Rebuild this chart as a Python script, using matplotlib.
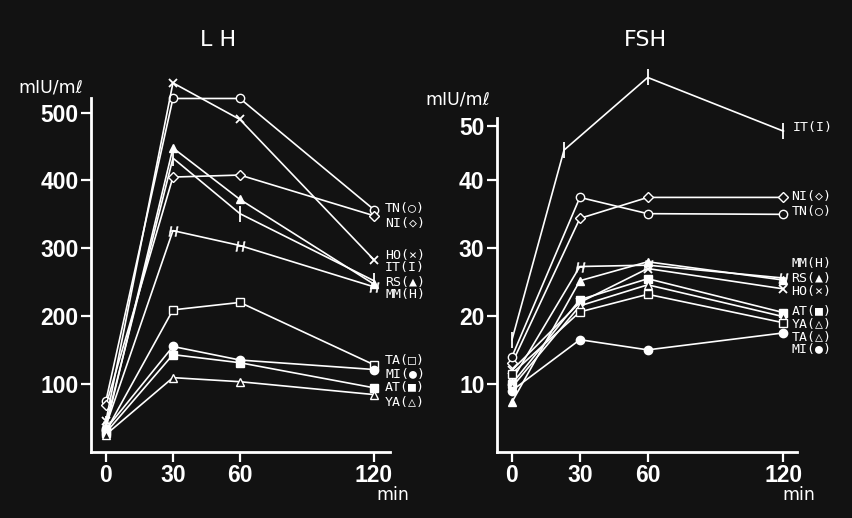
import numpy as np
import matplotlib
matplotlib.use("Agg")
import matplotlib.pyplot as plt

# ---------------- data ----------------
times = [0, 30, 60, 120]
x_ticks = [0, 30, 60, 120]

lh_TN = [75, 521, 521, 357]
lh_NI = [68, 405, 408, 348]
lh_HO = [45, 544, 490, 283]
lh_IT = [40, 433, 351, 252]
lh_RS = [35, 448, 372, 247]
lh_MM = [38, 326, 304, 243]
lh_TA = [30, 209, 220, 128]
lh_MI = [33, 155, 135, 121]
lh_AT = [28, 143, 131, 94]
lh_YA = [25, 109, 103, 84]
lh_yticks = [100, 200, 300, 400, 500]
lh_labels = ["TN(○)", "NI(◇)", "HO(×)", "IT(I)", "RS(▲)", "MM(H)",
             "TA(□)", "MI(●)", "AT(■)", "YA(△)"]

fsh_IT_times = [0, 23, 60, 120]
fsh_IT = [16.5, 45.6, 59.0, 49.1]
fsh_NI = [13.0, 34.4, 37.5, 37.5]
fsh_TN = [14.0, 37.5, 35.1, 35.0]
fsh_MM = [10.5, 27.3, 27.5, 25.6]
fsh_RS = [7.3, 25.2, 28.0, 25.3]
fsh_HO = [12.0, 22.0, 27.0, 24.0]
fsh_AT = [10.0, 22.4, 25.5, 20.5]
fsh_YA = [9.5, 21.5, 24.6, 19.9]
fsh_TA = [11.5, 20.6, 23.2, 19.0]
fsh_MI = [9.0, 16.5, 15.0, 17.5]
fsh_yticks = [10, 20, 30, 40, 50]
fsh_labels = ["IT(I)", "NI(◇)", "TN(○)", "MM(H)", "RS(▲)", "HO(×)",
              "AT(■)", "YA(△)", "TA(△)", "MI(●)"]

# ---------------- style ----------------
BG = "#121212"
FG = "white"
TICKFONT = ["Liberation Sans", "DejaVu Sans"]
LABFONT = ["DejaVu Sans Mono", "DejaVu Sans"]

styles = {
    "TN": dict(marker="o", ms=6, mfc=BG),
    "NI": dict(marker="D", ms=5, mfc=BG),
    "HO": dict(marker="x", ms=6, mew=1.3),
    "IT": dict(marker="|", ms=11, mew=1.3),
    "RS": dict(marker="^", ms=6, mfc=FG),
    "MM": dict(marker="$H$", ms=7, mew=0.4),
    "TA": dict(marker="s", ms=5.5, mfc=BG),
    "MI": dict(marker="o", ms=6, mfc=FG),
    "AT": dict(marker="s", ms=5.5, mfc=FG),
    "YA": dict(marker="^", ms=6, mfc=BG),
}

fig = plt.figure(figsize=(8.52, 5.18), dpi=100, facecolor=BG)

W, H = 852.0, 518.0
def add_axes(x0, x1, ytop):
    return fig.add_axes([x0 / W, (H - 451.5) / H, (x1 - x0) / W, (451.5 - ytop) / H])

ax1 = add_axes(91, 390, 58.5)
ax2 = add_axes(497, 797, 58.5)

# FSH axis is drawn with a compressed segment above 40 in the original
def fwd(v):
    v = np.asarray(v, dtype=float)
    return np.where(v <= 40, v, 40 + (v - 40) * 0.8)
def inv(f):
    f = np.asarray(f, dtype=float)
    return np.where(f <= 40, f, 40 + (f - 40) / 0.8)
ax2.set_yscale("function", functions=(fwd, inv))

def plot_series(ax, t, y, key):
    st = dict(styles[key])
    ax.plot(t, y, color=FG, lw=1.2, mec=FG, clip_on=False,
            marker=st.pop("marker"), ms=st.pop("ms"), **st)

lh_data = dict(TN=lh_TN, NI=lh_NI, HO=lh_HO, IT=lh_IT, RS=lh_RS, MM=lh_MM,
               TA=lh_TA, MI=lh_MI, AT=lh_AT, YA=lh_YA)
for k, v in lh_data.items():
    plot_series(ax1, times, v, k)

fsh_data = dict(NI=fsh_NI, TN=fsh_TN, MM=fsh_MM, RS=fsh_RS, HO=fsh_HO,
                AT=fsh_AT, YA=fsh_YA, TA=fsh_TA, MI=fsh_MI)
plot_series(ax2, fsh_IT_times, fsh_IT, "IT")
for k, v in fsh_data.items():
    plot_series(ax2, times, v, k)

# axes styling
for ax, xlim, ylim, yticks, ytop in [
        (ax1, (-6.7, 127.2), (0, 580), lh_yticks, 522),
        (ax2, (-6.63, 126.0), (0, 62.5), fsh_yticks, 51.6)]:
    ax.set_facecolor("none")
    ax.set_xlim(*xlim)
    ax.set_ylim(*ylim)
    for s in ("top", "right"):
        ax.spines[s].set_visible(False)
    for s in ("left", "bottom"):
        ax.spines[s].set_color(FG)
        ax.spines[s].set_linewidth(2)
    ax.spines["left"].set_bounds(0, ytop)
    ax.set_xticks(x_ticks)
    ax.set_yticks(yticks)
    ax.yaxis.set_minor_locator(matplotlib.ticker.NullLocator())
    ax.tick_params(colors=FG, width=1.6, length=7, pad=2)
    for lab in ax.get_xticklabels() + ax.get_yticklabels():
        lab.set_fontfamily(TICKFONT)
        lab.set_fontweight("bold")
        lab.set_fontsize(16.5)
        lab.set_color(FG)

# series labels
lh_label_y = [359, 337, 289, 271, 249, 231, 135, 113, 94, 73]
for txt, yy in zip(lh_labels, lh_label_y):
    ax1.text(125.0, yy, txt, color=FG, fontsize=9.5, family=LABFONT,
             va="center", ha="left", clip_on=False)
fsh_label_y = [49.75, 37.6, 35.4, 27.8, 25.6, 23.6, 20.6, 18.7, 16.8, 15.0]
fsh_label_x = [124.0] + [123.5] * 9
for txt, xx, yy in zip(fsh_labels, fsh_label_x, fsh_label_y):
    ax2.text(xx, yy, txt, color=FG, fontsize=9.5, family=LABFONT,
             va="center", ha="left", clip_on=False)

# titles, units
fig.text(218 / W, 1 - 40 / H, "L H", color=FG, fontsize=16, ha="center", va="center")
fig.text(645 / W, 1 - 40 / H, "FSH", color=FG, fontsize=16, ha="center", va="center")
fig.text(18 / W, 1 - 87 / H, "mIU/mℓ", color=FG, fontsize=12.5, ha="left", va="center")
fig.text(425 / W, 1 - 99 / H, "mIU/mℓ", color=FG, fontsize=12.5, ha="left", va="center")
fig.text(393 / W, 1 - 495 / H, "min", color=FG, fontsize=12.5, ha="center", va="center")
fig.text(799 / W, 1 - 495 / H, "min", color=FG, fontsize=12.5, ha="center", va="center")

fig.savefig("out.png", dpi=100, facecolor=BG)
